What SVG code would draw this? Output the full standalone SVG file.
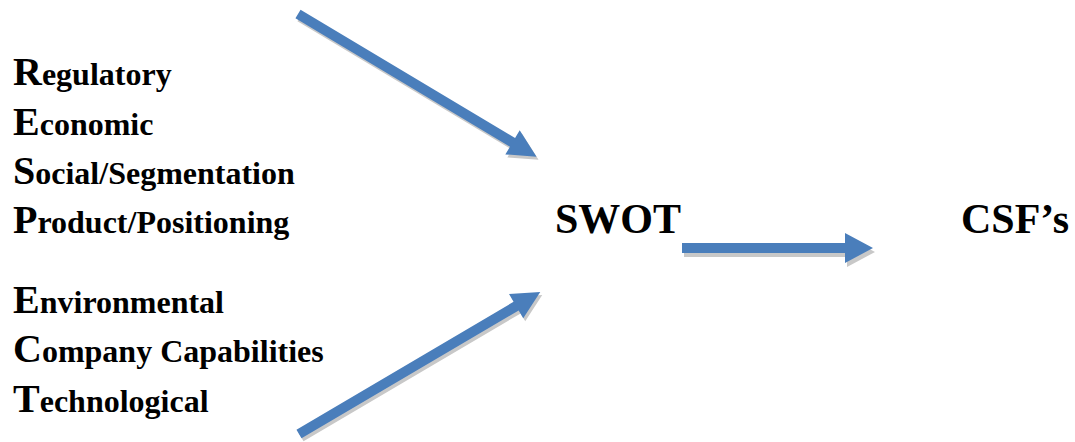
<svg xmlns="http://www.w3.org/2000/svg" width="1075" height="442" viewBox="0 0 1075 442">
  <style>
    text { font-family: "Liberation Serif", "Times New Roman", serif; font-weight: bold; fill: #000; }
    .big { font-size: 40px; }
    .small { font-size: 32px; }
    .title { font-size: 42px; }
    .arrow { fill: #4A7EBB; }
    .shadow { fill: #C8C8C8; }
  </style>
  <defs>
    <polygon id="diag1" points="0,-5 250,-5 250,-14 278,0 250,14 250,5 0,5"/>
    <polygon id="diag2" points="0,-5 252,-5 252,-14 280,0 252,14 252,5 0,5"/>
    <polygon id="horiz" points="682,243 845,243 845,233 873,248 845,263 845,253 682,253"/>
  </defs>

  <g id="connectors">
    <!-- shadows -->
    <use href="#diag1" class="shadow" transform="translate(300,17) rotate(30.9)"/>
    <use href="#diag2" class="shadow" transform="translate(301,437) rotate(-30.5)"/>
    <use href="#horiz" class="shadow" transform="translate(2,4)"/>
    <!-- arrows -->
    <use href="#diag1" class="arrow" transform="translate(298,14) rotate(30.9)"/>
    <use href="#diag2" class="arrow" transform="translate(299,434) rotate(-30.5)"/>
    <use href="#horiz" class="arrow"/>
  </g>

  <g id="node-resp">
    <text x="13" y="85"><tspan class="big">R</tspan><tspan class="small">egulatory</tspan></text>
    <text x="13" y="135"><tspan class="big">E</tspan><tspan class="small">conomic</tspan></text>
    <text x="13" y="184"><tspan class="big">S</tspan><tspan class="small">ocial/Segmentation</tspan></text>
    <text x="13" y="233"><tspan class="big">P</tspan><tspan class="small">roduct/Positioning</tspan></text>
    <text x="13" y="313"><tspan class="big">E</tspan><tspan class="small">nvironmental</tspan></text>
    <text x="13" y="362"><tspan class="big">C</tspan><tspan class="small">ompany Capabilities</tspan></text>
    <text x="13" y="412"><tspan class="big">T</tspan><tspan class="small">echnological</tspan></text>
  </g>

  <g id="node-swot">
    <text class="title" x="555" y="233">SWOT</text>
  </g>

  <g id="node-csf">
    <text class="title" x="961" y="233">CSF’s</text>
  </g>
</svg>
